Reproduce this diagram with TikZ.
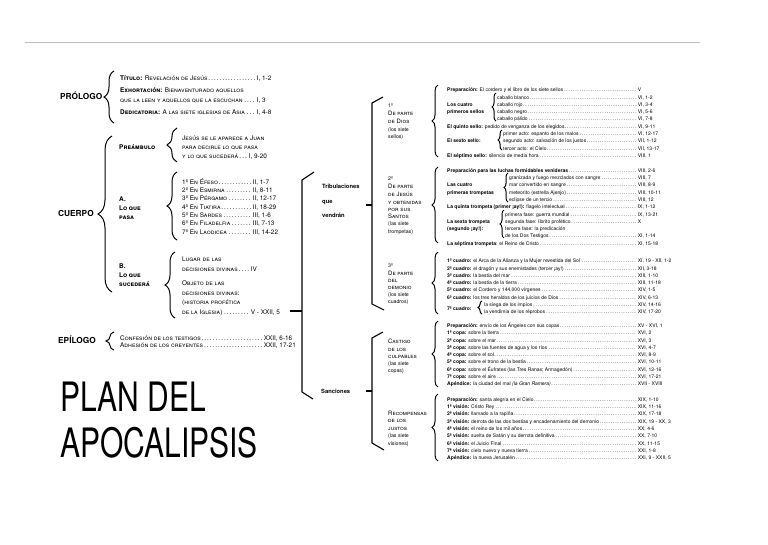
\documentclass[tikz,border=0pt]{standalone}
\usepackage{graphicx}
\usepackage{fontspec}
\setmainfont{TeX Gyre Heros}
\usetikzlibrary{decorations.pathreplacing}
\newcommand\dl[3]{\makebox[#1pt][l]{#2\dotfill}\hspace{0.6pt}#3}
\begin{document}
\begin{tikzpicture}[x=1pt,y=-1pt,
  t/.style={anchor=west, inner sep=0pt, text height=0.7em, text depth=0.15em},
  R/.style={t, font=\fontsize{5}{6}\selectfont},
  RB/.style={t, font=\fontsize{5}{6}\selectfont\bfseries},
  L/.style={t, font=\fontsize{6.4}{7}\selectfont\scshape},
  LB/.style={t, font=\fontsize{6.5}{7}\selectfont\scshape\bfseries},
  H/.style={t, font=\fontsize{8.3}{9}\selectfont\bfseries},
  M/.style={t, font=\fontsize{5.8}{7}\selectfont\bfseries},
  T/.style={t, font=\fontsize{6}{7}\selectfont\scshape},
  Tn/.style={t, font=\fontsize{5.2}{7}\selectfont},
  br/.style={decorate, decoration={brace, amplitude=#1pt}, line width=1pt},
  bk/.style={line width=1.1pt, line join=miter},
]
\useasboundingbox (0,0) rectangle (768,544);
\draw[black!25, line width=0.6pt] (25,42) -- (700,42);

% ---------------- left column
\node[H] (pro) at (60,97) {PRÓLOGO};
\node[H] (cue) at (58,214) {CUERPO};
\node[H] (epi) at (58,341) {EPÍLOGO};

\draw[br=10] (114,123) -- (114,71);
\node[L] (p1) at (120,77.5) {\dl{136}{\textbf{Título:} Revelación de Jesús}{I, 1-2}};
\node[L] (p2) at (120,90) {\textbf{Exhortación:} Bienaventurado aquellos};
\node[L] (p3) at (120,99.5) {\dl{136}{que la leen y aquellos que la escuchan}{I, 3}};
\node[L] (p4) at (120,112) {\dl{136}{\textbf{Dedicatoria:} A las siete iglesias de Asia}{I, 4-8}};

\draw[br=14] (112,292) -- (112,136);

\node[LB] (pre) at (119,146.5) {Preámbulo};
\draw[br=10] (177,162) -- (177,128);
\node[L] (pr1) at (182,137.5) {Jesús se le aparece a Juan};
\node[L] (pr2) at (182,146.5) {para decirle lo que pasa};
\node[L] (pr3) at (182,155.5) {\dl{66}{y lo que sucederá}{I, 9-20}};

\node[LB] (a1) at (119,199) {A.};
\node[LB] (a2) at (119,208) {Lo que};
\node[LB] (a3) at (119,217) {pasa};
\draw[br=10] (177,240) -- (177,172);
\node[L] (ai1) at (182,181.5) {\dl{70}{1º En Éfeso}{II, 1-7}};
\node[L] (ai2) at (182,189.8) {\dl{70}{2º En Esmirna}{II, 8-11}};
\node[L] (ai3) at (182,198.1) {\dl{70}{3º En Pérgamo}{II, 12-17}};
\node[L] (ai4) at (182,206.4) {\dl{70}{4º En Tiatira}{II, 18-29}};
\node[L] (ai5) at (182,214.7) {\dl{70}{5º En Sardes}{III, 1-6}};
\node[L] (ai6) at (182,223) {\dl{70}{6º En Filadelfia}{III, 7-13}};
\node[L] (ai7) at (182,231.3) {\dl{70}{7º En Laodicea}{III, 14-22}};

\node[LB] (b1) at (119,266) {B.};
\node[LB] (b2) at (119,275) {Lo que};
\node[LB] (b3) at (119,284) {sucederá};
\draw[br=10] (175,318) -- (175,252);
\node[L] (bi1) at (182,259) {Lugar de las};
\node[L] (bi2) at (182,268.5) {\dl{68}{decisiones divinas}{IV}};
\node[L] (bi3) at (182,283) {Objeto de las};
\node[L] (bi4) at (182,292.5) {decisiones divinas:};
\node[L] (bi5) at (182,302) {(historia profética};
\node[L] (bi6) at (182,311.5) {\dl{68}{de la Iglesia)}{V - XXII, 5}};

\draw[br=8] (114,350) -- (114,332);
\node[L] (e1) at (120,337.5) {\dl{143}{Confesión de los testigos}{XXII, 6-16}};
\node[L] (e2) at (120,345) {\dl{143}{Adhesión de los creyentes}{XXII, 17-21}};

\node[anchor=base west, inner sep=0pt, font=\fontsize{30}{30}\selectfont] (ti1) at (60,411) {\scalebox{1}[1.35]{PLAN DEL}};
\node[anchor=base west, inner sep=0pt, font=\fontsize{30}{30}\selectfont] (ti2) at (60,457) {\scalebox{1}[1.35]{APOCALIPSIS}};

% ---------------- middle brackets
\draw[bk] (314,172) -- (302,180) -- (302,392) -- (313,399);
\draw[bk] (290,311) -- (302,311);
\node[M] (tr1) at (322,186) {Tribulaciones};
\node[M] (tr2) at (322,200.5) {que};
\node[M] (tr3) at (322,215) {vendrán};
\node[M] (san) at (321,391) {Sanciones};

\draw[bk] (383,97) -- (372,103) -- (372,304) -- (384,310);
\draw[bk] (366,205) -- (372,205);
\draw[bk] (383,332) -- (372,338) -- (372,443) -- (384,450);
\draw[bk] (366,391) -- (372,391);

% third column
\node[Tn] (s1a) at (388,105) {1º};
\node[T] (s1b) at (388,113) {De parte};
\node[T] (s1c) at (388,121) {de Dios};
\node[Tn] (s1d) at (388,128.5) {(los siete};
\node[Tn] (s1e) at (388,136) {sellos)};

\node[Tn] (s2a) at (388,178) {2º};
\node[T] (s2b) at (388,186) {De parte};
\node[T] (s2c) at (388,194) {de Jesús};
\node[T] (s2d) at (388,201.5) {y obtenidas};
\node[T] (s2e) at (388,208.5) {por sus};
\node[T] (s2f) at (388,215.5) {Santos};
\node[Tn] (s2g) at (388,223) {(las siete};
\node[Tn] (s2h) at (388,230.5) {trompetas)};

\node[Tn] (s3a) at (388,265) {3º};
\node[T] (s3b) at (388,273) {De parte};
\node[T] (s3c) at (388,280) {del};
\node[T] (s3d) at (388,287) {demonio};
\node[Tn] (s3e) at (388,294) {(los siete};
\node[Tn] (s3f) at (388,301) {cuadros)};

\node[T] (s4a) at (388,341) {Castigo};
\node[T] (s4b) at (388,348.5) {de los};
\node[T] (s4c) at (388,356) {culpables};
\node[Tn] (s4d) at (388,363) {(las siete};
\node[Tn] (s4e) at (388,370) {copas)};

\node[T] (s5a) at (388,413) {Recompensas};
\node[T] (s5b) at (388,420) {de los};
\node[T] (s5c) at (388,427.5) {justos};
\node[Tn] (s5d) at (388,435) {(las siete};
\node[Tn] (s5e) at (388,442.5) {visiones)};

% group braces
\draw[br=6] (438,157) -- (438,85);
\draw[br=6] (438,243) -- (438,167);
\draw[br=6] (438,314) -- (438,252);
\draw[br=6] (438,387) -- (438,321);
\draw[br=6] (438,461) -- (438,394);

% ---------------- right column G1
\node[R] (g1a) at (447,89) {\dl{190}{\textbf{Preparación:} El cordero y el libro de los siete sellos}{V}};
\node[RB] (g1l1) at (447,103.6) {Los cuatro};
\node[RB] (g1l2) at (447,110.9) {primeros sellos};
\draw[br=4] (496,121) -- (496,93);
\node[R] (g1b) at (497,96.3) {\dl{140}{caballo blanco}{VI, 1-2}};
\node[R] (g1c) at (497,103.6) {\dl{140}{caballo rojo}{VI, 3-4}};
\node[R] (g1d) at (497,110.9) {\dl{140}{caballo negro}{VI, 5-6}};
\node[R] (g1e) at (497,118.2) {\dl{140}{caballo pálido}{VI, 7-8}};
\node[R] (g1f) at (447,125.5) {\dl{190}{\textbf{El quinto sello:} pedido de venganza de los elegidos}{VI, 9-11}};
\node[RB] (g1l3) at (447,140.1) {El sexto sello:};
\draw[br=4] (502,150) -- (502,130);
\node[R] (g1g) at (503,132.8) {\dl{134}{primer acto: espanto de los malos}{VI, 12-17}};
\node[R] (g1h) at (503,140.1) {\dl{134}{segundo acto: salvación de los justos}{VII, 1-12}};
\node[R] (g1i) at (503,147.4) {\dl{134}{tercer acto: el Cielo}{VII, 13-17}};
\node[R] (g1j) at (447,154.7) {\dl{190}{\textbf{El séptimo sello:} silencio de media hora}{VIII, 1}};

% G2
\node[R] (g2a) at (447,169.5) {\dl{190}{\textbf{Preparación para las luchas formidables venideras}}{VIII, 2-6}};
\node[RB] (g2l1) at (447,184.1) {Las cuatro};
\node[RB] (g2l2) at (447,191.4) {primeras trompetas};
\draw[br=4] (508,202) -- (508,173);
\node[R] (g2b) at (509,176.8) {\dl{128}{granizada y fuego mezclados con sangre}{VIII, 7}};
\node[R] (g2c) at (509,184.1) {\dl{128}{mar convertido en sangre}{VIII, 8-9}};
\node[R] (g2d) at (509,191.4) {\dl{128}{meteorito (estrella Ajenjo)}{VIII, 10-11}};
\node[R] (g2e) at (509,198.7) {\dl{128}{eclipse de un tercio}{VIII, 12}};
\node[R] (g2f) at (447,206) {\dl{190}{\textbf{La quinta trompeta (primer ¡ay!):} flagelo intelectual}{IX, 1-12}};
\node[RB] (g2l3) at (447,220.6) {La sexta trompeta};
\node[RB] (g2l4) at (447,227.9) {(segundo ¡ay!):};
\draw[br=4] (504,238) -- (504,210);
\node[R] (g2g) at (505,213.3) {\dl{132}{primera fase: guerra mundial}{IX, 13-21}};
\node[R] (g2h) at (505,220.6) {\dl{132}{segunda fase: librito profético}{X}};
\node[R] (g2i) at (505,227.9) {tercera fase: la predicación};
\node[R] (g2j) at (505,235.2) {\dl{132}{de los Dos Testigos}{XI, 1-14}};
\node[R] (g2k) at (447,242.5) {\dl{190}{\textbf{La séptima trompeta}: el Reino de Cristo}{XI, 15-18}};

% G3
\node[R] (g3a) at (447,260) {\dl{190}{\textbf{1º cuadro:} el Arca de la Alianza y la Mujer revestida del Sol}{XI, 19 - XII, 1-2}};
\node[R] (g3b) at (447,267.3) {\dl{190}{\textbf{2º cuadro:} el dragón y sus enemistades (tercer ¡ay!)}{XII, 3-18}};
\node[R] (g3c) at (447,274.6) {\dl{190}{\textbf{3º cuadro:} la bestia del mar}{XIII, 1-10}};
\node[R] (g3d) at (447,281.9) {\dl{190}{\textbf{4º cuadro:} la bestia de la tierra}{XIII, 11-18}};
\node[R] (g3e) at (447,289.2) {\dl{190}{\textbf{5º cuadro:} el Cordero y 144.000 vírgenes}{XIV, 1-5}};
\node[R] (g3f) at (447,296.5) {\dl{190}{\textbf{6º cuadro:} los tres heraldos de los juicios de Dios}{XIV, 6-13}};
\node[RB] (g3l) at (447,307.5) {7º cuadro:};
\draw[br=4] (482,314) -- (482,301);
\node[R] (g3g) at (484,303.8) {\dl{153}{la siega de los impíos}{XIV, 14-16}};
\node[R] (g3h) at (484,311.1) {\dl{153}{la vendimia de los réprobos}{XIV, 17-20}};

% G4
\node[R] (g4a) at (447,324.7) {\dl{190}{\textbf{Preparación:} envío de los Ángeles con sus copas}{XV - XVI, 1}};
\node[R] (g4b) at (447,332) {\dl{190}{\textbf{1ª copa:} sobre la tierra}{XVI, 2}};
\node[R] (g4c) at (447,339.3) {\dl{190}{\textbf{2ª copa:} sobre el mar}{XVI, 3}};
\node[R] (g4d) at (447,346.6) {\dl{190}{\textbf{3ª copa:} sobre las fuentes de agua y los ríos}{XVI, 4-7}};
\node[R] (g4e) at (447,353.9) {\dl{190}{\textbf{4ª copa:} sobre el sol}{XVI, 8-9}};
\node[R] (g4f) at (447,361.2) {\dl{190}{\textbf{5ª copa:} sobre el trono de la bestia}{XVI, 10-11}};
\node[R] (g4g) at (447,368.5) {\dl{190}{\textbf{6ª copa:} sobre el Éufrates (las Tres Ranas; Armagedón)}{XVI, 12-16}};
\node[R] (g4h) at (447,375.8) {\dl{190}{\textbf{7ª copa:} sobre el aire}{XVI, 17-21}};
\node[R] (g4i) at (447,383.1) {\dl{190}{\textbf{Apéndice:} la ciudad del mal \textit{(la Gran Ramera)}}{XVII - XVIII}};

% G5
\node[R] (g5a) at (447,398.5) {\dl{190}{\textbf{Preparación:} santa alegría en el Cielo}{XIX, 1-10}};
\node[R] (g5b) at (447,405.8) {\dl{190}{\textbf{1ª visión:} Cristo Rey}{XIX, 11-16}};
\node[R] (g5c) at (447,413.1) {\dl{190}{\textbf{2ª visión:} llamado a la rapiña}{XIX, 17-18}};
\node[R] (g5d) at (447,420.4) {\dl{190}{\textbf{3ª visión:} derrota de las dos bestias y encadenamiento del demonio}{XIX, 19 - XX, 3}};
\node[R] (g5e) at (447,427.7) {\dl{190}{\textbf{4ª visión:} el reino de los mil años}{XX, 4-6}};
\node[R] (g5f) at (447,435) {\dl{190}{\textbf{5ª visión:} suelta de Satán y su derrota definitiva}{XX, 7-10}};
\node[R] (g5g) at (447,442.3) {\dl{190}{\textbf{6ª visión:} el Juicio Final}{XX, 11-15}};
\node[R] (g5h) at (447,449.6) {\dl{190}{\textbf{7ª visión:} cielo nuevo y nueva tierra}{XXI, 1-8}};
\node[R] (g5i) at (447,456.9) {\dl{190}{\textbf{Apéndice:} la nueva Jerusalén}{XXI, 9 - XXII, 5}};
\end{tikzpicture}
\end{document}
